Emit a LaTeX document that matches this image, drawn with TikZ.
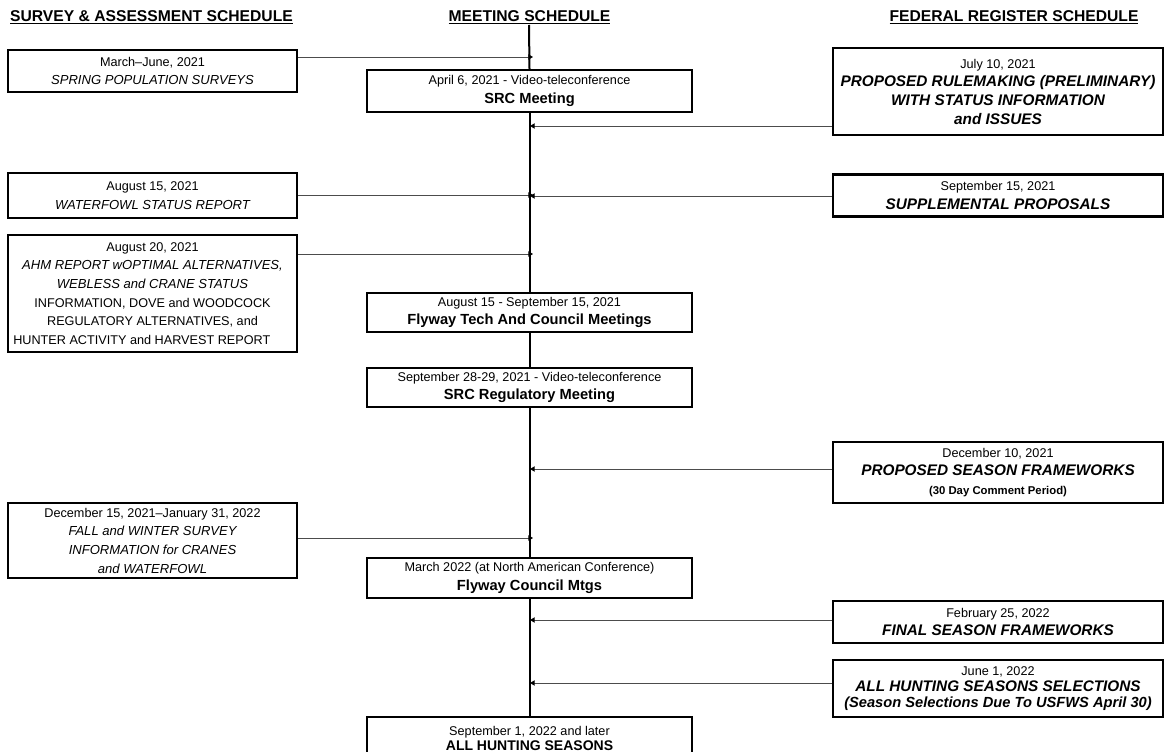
\documentclass[tikz,border=0pt]{standalone}
\usepackage{fontspec}
\setmainfont{Liberation Sans}
\usetikzlibrary{positioning,arrows.meta}

\newcommand{\datefont}{\fontsize{9.5}{14}\selectfont}
\newcommand{\itemfont}{\fontsize{9.8}{14}\selectfont\itshape}
\newcommand{\mtgfont}{\fontsize{11}{14}\selectfont\bfseries}
\newcommand{\regfont}{\fontsize{11.5}{14}\selectfont\bfseries\itshape}
\newcommand{\headfont}{\fontsize{11.75}{14}\selectfont\bfseries}

\begin{document}
\begin{tikzpicture}[x=0.75pt,y=-0.75pt,
    head/.style={font=\headfont,inner sep=0pt},
    survey/.style={draw,line width=1.6pt,inner sep=0pt,
      minimum width=216.75pt,align=center,font=\datefont},
    meeting/.style={draw,line width=1.5pt,inner sep=0pt,minimum width=243.75pt,
      align=center,font=\datefont},
    register/.style={draw,line width=1.6pt,inner sep=0pt,
      minimum width=247.5pt,align=center,font=\datefont},
    timeline/.style={draw=black,line width=1.5pt},
    feed/.style={draw=black!70,line width=0.7pt,-{Triangle[length=3.5pt,width=4pt,color=black]}}]
  \useasboundingbox (0,0) rectangle (1167,752);

  % column headings
  \node[head] (hsurvey) at (151.5,17) {\underline{SURVEY \& ASSESSMENT SCHEDULE}};
  \node[head] (hmeeting) at (529.5,17) {\underline{MEETING SCHEDULE}};
  \node[head] (hregister) at (1014,17) {\underline{FEDERAL REGISTER SCHEDULE}};

  % survey & assessment
  \node[survey,minimum height=31.5pt] (s1) at (152.5,71)
    {March--June, 2021\\ \itemfont SPRING POPULATION SURVEYS};
  \node[survey,minimum height=33.75pt] (s2) at (152.5,195.5)
    {August 15, 2021\\ \itemfont WATERFOWL STATUS REPORT};
  \node[survey,minimum height=87.75pt] (s3) at (152.5,293.5)
    {August 20, 2021\\ \itemfont AHM REPORT wOPTIMAL ALTERNATIVES,\\
     \itemfont WEBLESS and CRANE STATUS\\ INFORMATION, DOVE and WOODCOCK\\
     REGULATORY ALTERNATIVES, and\\ HUNTER ACTIVITY and HARVEST REPORT\hspace*{16pt}};
  \node[survey,minimum height=56.25pt] (s4) at (152.5,540.5)
    {December 15, 2021--January 31, 2022\\ \itemfont FALL and WINTER SURVEY\\
     \itemfont INFORMATION for CRANES\\ \itemfont and WATERFOWL};

  % meetings
  \node[meeting,minimum height=31.5pt] (m1) at (529.5,91)
    {April 6, 2021 - Video-teleconference\\ \mtgfont SRC Meeting};
  \node[meeting,minimum height=29.25pt] (m2) at (529.5,312.5)
    {August 15 - September 15, 2021\\ \mtgfont Flyway Tech And Council Meetings};
  \node[meeting,minimum height=29.25pt] (m3) at (529.5,387.5)
    {September 28-29, 2021 - Video-teleconference\\ \mtgfont SRC Regulatory Meeting};
  \node[meeting,minimum height=30pt] (m4) at (529.5,578)
    {March 2022 (at North American Conference)\\ \mtgfont Flyway Council Mtgs};
  \node[meeting,minimum height=32pt] (m5) at (529.5,738.5)
    {September 1, 2022 and later\\[-3pt] \fontsize{10.5}{14}\selectfont\bfseries ALL HUNTING SEASONS};

  % federal register
  \node[register,minimum height=65.25pt] (r1) at (998,91.5)
    {July 10, 2021\\ \regfont PROPOSED RULEMAKING (PRELIMINARY)\\
     \regfont WITH STATUS INFORMATION\\ \regfont and ISSUES};
  \node[register,minimum height=31.5pt] (r2) at (998,195.5)
    {September 15, 2021\\ \regfont SUPPLEMENTAL PROPOSALS};
  \node[register,minimum height=45.75pt] (r3) at (998,472.5)
    {December 10, 2021\\ \regfont PROPOSED SEASON FRAMEWORKS\\
     \fontsize{8.5}{12}\selectfont\bfseries (30 Day Comment Period)};
  \node[register,minimum height=31.5pt] (r4) at (998,622)
    {February 25, 2022\\ \regfont FINAL SEASON FRAMEWORKS};
  \node[register,minimum height=42.75pt] (r5) at (998,688.5)
    {June 1, 2022\\[-1.5pt] \regfont ALL HUNTING SEASONS SELECTIONS\\[-2pt]
     \fontsize{11}{12}\selectfont\bfseries\itshape (Season Selections Due To USFWS April 30)};

  % the time line
  \coordinate (top) at (529,25);
  \path[timeline] (top) -- (m1.north);
  \path[timeline] (m1.south) -- (m2.north);
  \path[timeline] (m2.south) -- (m3.north);
  \path[timeline] (m3.south) -- (m4.north);
  \path[timeline] (m4.south) -- (m5.north);

  % where the inputs join it
  \coordinate (t1) at (533,57);
  \coordinate (t2) at (530,126);
  \coordinate (t3) at (533,195);
  \coordinate (t4) at (530,196);
  \coordinate (t5) at (533,254);
  \coordinate (t6) at (530,469);
  \coordinate (t7) at (533,538);
  \coordinate (t8) at (530,620);
  \coordinate (t9) at (530,683);

  \draw[feed] (s1.east |- t1) -- (t1);
  \draw[feed] (s2.east |- t3) -- (t3);
  \draw[feed] (s3.east |- t5) -- (t5);
  \draw[feed] (s4.east |- t7) -- (t7);
  \draw[feed] (r1.west |- t2) -- (t2);
  \draw[feed] (r2.west |- t4) -- (t4);
  \draw[feed] (r3.west |- t6) -- (t6);
  \draw[feed] (r4.west |- t8) -- (t8);
  \draw[feed] (r5.west |- t9) -- (t9);
\end{tikzpicture}
\end{document}
